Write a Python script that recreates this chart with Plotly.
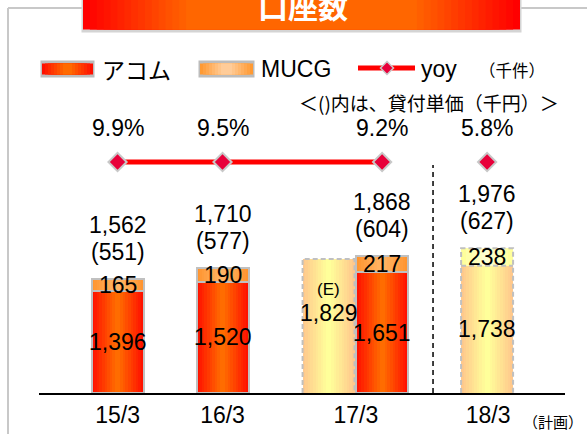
import plotly.graph_objects as go

# ---------------- data ----------------
CATEGORIES = ["15/3", "16/3", "17/3", "18/3"]
ACOM = [1396, 1520, 1651]            # actual: 15/3, 16/3, 17/3
MUCG = [165, 190, 217]
PLAN_LABELS = ["(E)", ""]           # 17/3 estimate, 18/3 plan
PLAN_ACOM = [1829, 1738]
PLAN_MUCG = [None, 238]
TOTALS = [1562, 1710, 1868, 1976]
UNIT_PRICE = [551, 577, 604, 627]
YOY = [9.9, 9.5, 9.2, 5.8]

# ---------------- layout constants ----------------
W, H = 587, 434
ML, MR, MT, MB = 39, 22, 0, 41
PW, PH = W - ML - MR, H - MT - MB
POS_ACTUAL = [0.0, 1.0, 2.52]
POS_PLAN = [2.01, 3.52]
POS_TOTAL = [0.0, 1.0, 2.52, 3.52]
POS_TICKS = [0.0, 1.0, 2.27, 3.53]
X_RANGE = [-0.748, 4.262]
Y_RANGE = [0, PH / 0.0732]
BAR_W = 0.495
YOY_LEVEL = (PH - 162) / PH
FONT = "Liberation Sans, Arial, Noto Sans CJK JP, sans-serif"
JP = "Noto Sans CJK JP, sans-serif"


def px_x(px):
    return (px - ML) / PW


def px_y(py):
    return (PH - py) / PH


def hex2rgb(h):
    h = h.lstrip("#")
    return [int(h[i:i + 2], 16) for i in (0, 2, 4)]


def lerp(c1, c2, t):
    a, b = hex2rgb(c1), hex2rgb(c2)
    return "rgb(%d,%d,%d)" % tuple(round(a[i] + (b[i] - a[i]) * t) for i in range(3))


fig = go.Figure()


def gradient_bars(x, y, base, edge, center, n=10):
    for k in range(n):
        fig.add_trace(go.Bar(
            x=x, y=y, base=base, width=BAR_W * (1 - k / n),
            marker=dict(color=lerp(edge, center, k / (n - 1)), line=dict(width=0)),
            showlegend=False, hoverinfo="skip"))


# actual bars
gradient_bars(POS_ACTUAL, ACOM, [0] * len(ACOM), "#ff1200", "#ff6c00")
gradient_bars(POS_ACTUAL, MUCG, ACOM, "#ff9530", "#ffb465")
fig.add_trace(go.Bar(x=POS_ACTUAL, y=ACOM, width=BAR_W,
                     marker=dict(color="rgba(0,0,0,0)", line=dict(color="#c0c0c0", width=2)),
                     showlegend=False, hoverinfo="skip"))
fig.add_trace(go.Bar(x=POS_ACTUAL, y=MUCG, base=ACOM, width=BAR_W,
                     marker=dict(color="rgba(0,0,0,0)", line=dict(color="#c0c0c0", width=2)),
                     showlegend=False, hoverinfo="skip"))

# plan bars
gradient_bars(POS_PLAN, PLAN_ACOM, [0] * len(PLAN_ACOM), "#ffc98c", "#ffff9a")
pm_x = [p for p, v in zip(POS_PLAN, PLAN_MUCG) if v is not None]
pm_y = [v for v in PLAN_MUCG if v is not None]
pm_b = [a for a, v in zip(PLAN_ACOM, PLAN_MUCG) if v is not None]
gradient_bars(pm_x, pm_y, pm_b, "#ffff9c", "#ffffd0", n=5)

# dashed outlines of plan bars (from data)
ox, oy = [], []
for p, a, m in zip(POS_PLAN, PLAN_ACOM, PLAN_MUCG):
    top = a + (m or 0)
    ox += [p - BAR_W / 2, p - BAR_W / 2, p + BAR_W / 2, p + BAR_W / 2, None]
    oy += [0, top, top, 0, None]
    if m:
        ox += [p - BAR_W / 2, p + BAR_W / 2, None]
        oy += [a, a, None]
fig.add_trace(go.Scatter(x=ox, y=oy, mode="lines",
                         line=dict(color="#c0c0c0", width=2, dash="5px,3px"),
                         showlegend=False, hoverinfo="skip"))

# yoy line + diamonds (on a hidden overlay axis, constant level)
fig.add_trace(go.Scatter(x=POS_TOTAL[:3], y=[YOY_LEVEL] * 3, yaxis="y2", mode="lines",
                         line=dict(color="#ff0000", width=5), showlegend=False, hoverinfo="skip"))
fig.add_trace(go.Scatter(x=POS_TOTAL, y=[YOY_LEVEL] * len(YOY), yaxis="y2", mode="markers",
                         marker=dict(symbol="diamond", size=14, color="#e8003a",
                                     line=dict(color="#c8c8c8", width=2)),
                         showlegend=False, hoverinfo="skip"))

ann = []
# yoy labels
for p, v in zip(POS_TOTAL, YOY):
    ann.append(dict(x=p, y=YOY_LEVEL, xref="x", yref="y2", yshift=34, text=f"{v:.1f}%",
                    yanchor="middle", showarrow=False,
                    font=dict(size=23, color="black", family=FONT)))
# totals + unit price
for p, t, u in zip(POS_TOTAL, TOTALS, UNIT_PRICE):
    ann.append(dict(x=p, y=t, xref="x", yref="y", yshift=54, text=f"{t:,}", yanchor="middle",
                    showarrow=False, font=dict(size=23, color="black", family=FONT)))
    ann.append(dict(x=p, y=t, xref="x", yref="y", yshift=27, text=f"({u})", yanchor="middle",
                    showarrow=False, font=dict(size=23, color="black", family=FONT)))
# segment labels (actual)
for p, a, m in zip(POS_ACTUAL, ACOM, MUCG):
    ann.append(dict(x=p, y=a / 2, xref="x", yref="y", text=f"{a:,}", showarrow=False,
                    yanchor="middle", font=dict(size=23, color="black", family=FONT)))
    ann.append(dict(x=p, y=a + m / 2, xref="x", yref="y", text=f"{m:,}", showarrow=False,
                    yanchor="middle", font=dict(size=23, color="black", family=FONT)))
# plan segment labels
for p, a, m, lab in zip(POS_PLAN, PLAN_ACOM, PLAN_MUCG, PLAN_LABELS):
    if lab:
        ann.append(dict(x=p, y=a / 2, xref="x", yref="y", yshift=37, text=lab, showarrow=False,
                        yanchor="middle", font=dict(size=17, color="black", family=FONT)))
        ann.append(dict(x=p, y=a / 2, xref="x", yref="y", yshift=13, text=f"{a:,}",
                        yanchor="middle", showarrow=False,
                        font=dict(size=23, color="black", family=FONT)))
    else:
        ann.append(dict(x=p, y=a / 2, xref="x", yref="y", text=f"{a:,}", showarrow=False,
                        yanchor="middle", font=dict(size=23, color="black", family=FONT)))
    if m:
        ann.append(dict(x=p, y=a + m / 2, xref="x", yref="y", text=f"{m:,}", showarrow=False,
                        yanchor="middle", font=dict(size=23, color="black", family=FONT)))

shapes = []

# frame
for (x0, y0, x1, y1) in [(8, 8, 8, 440), (8, 8, 83, 8), (520, 8, 590, 8)]:
    shapes.append(dict(type="line", xref="paper", yref="paper", x0=px_x(x0), y0=px_y(y0),
                       x1=px_x(x1), y1=px_y(y1), line=dict(color="#c8c8c8", width=2)))


def grad_rect(x0, y0, x1, y1, edge, center, band, n, border=None, bw=2):
    if border:
        shapes.append(dict(type="rect", xref="paper", yref="paper",
                           x0=px_x(x0 - bw / 2), x1=px_x(x1 + bw / 2),
                           y0=px_y(y0 - bw / 2), y1=px_y(y1 + bw / 2),
                           fillcolor=border, line=dict(width=0), layer="above"))
    for k in range(n):
        inset = band * k / n
        shapes.append(dict(type="rect", xref="paper", yref="paper",
                           x0=px_x(x0 + inset), x1=px_x(x1 - inset),
                           y0=px_y(y0 + bw / 2 if border else y0), y1=px_y(y1 - bw / 2 if border else y1),
                           fillcolor=lerp(edge, center, k / (n - 1)),
                           line=dict(width=0), layer="above"))


def txt(x, y, text, size, fam, xanchor="center"):
    ann.append(dict(x=px_x(x), y=px_y(y), xref="paper", yref="paper", xanchor=xanchor,
                    yanchor="middle", text=text, showarrow=False,
                    font=dict(size=size, color="black", family=fam)))


# title box
grad_rect(83, -10, 520, 31, "#ff0000", "#ff6600", 110, 16, border="#d4d4d4", bw=3)
ann.append(dict(x=px_x(303), y=px_y(5), xref="paper", yref="paper", xanchor="center",
                yanchor="middle", text="<b>口座数</b>",
                showarrow=False, font=dict(size=30, color="white", family=JP)))

# legend
grad_rect(42, 62, 93, 76, "#ff1000", "#ff6a00", 24, 8, border="#bcbcbc", bw=3)
grad_rect(200, 62, 253, 76, "#ff9a33", "#ffcc99", 24, 8, border="#bcbcbc", bw=3)
shapes.append(dict(type="line", xref="paper", yref="paper", x0=px_x(358), x1=px_x(415),
                   y0=px_y(68), y1=px_y(68), line=dict(color="#ff0000", width=5), layer="above"))
cx, cy, r = 387, 68, 6.5
shapes.append(dict(type="path", xref="paper", yref="paper",
                   path=f"M {px_x(cx - r)},{px_y(cy)} L {px_x(cx)},{px_y(cy - r)} "
                        f"L {px_x(cx + r)},{px_y(cy)} L {px_x(cx)},{px_y(cy + r)} Z",
                   fillcolor="#e8003a", line=dict(color="#c8c8c8", width=1.5), layer="above"))
txt(100, 69, "アコム", 23, JP, "left")
txt(259, 69, "MUCG", 23, FONT, "left")
txt(419, 69, "yoy", 23, FONT, "left")
txt(477, 70, "（千件）", 16.5, JP, "left")
txt(297, 103, "＜()内は、貸付単価（千円）＞", 19, JP, "left")
txt(553, 421, "（計画）", 15, JP)

# separator between actual and plan
shapes.append(dict(type="line", xref="x", yref="paper", x0=3.005, x1=3.005, y0=0,
                   y1=px_y(165), line=dict(color="black", width=1.5, dash="5px,4px")))

fig.update_layout(
    width=W, height=H, margin=dict(l=ML, r=MR, t=MT, b=MB),
    paper_bgcolor="white", plot_bgcolor="white",
    barmode="overlay", bargap=0, showlegend=False,
    xaxis=dict(range=X_RANGE, tickvals=POS_TICKS, ticktext=CATEGORIES, showgrid=False,
               zeroline=False, showline=True, linecolor="black", linewidth=2, ticks="",
               ticklabelstandoff=0, tickfont=dict(size=23, color="black", family=FONT),
               fixedrange=True),
    yaxis=dict(range=Y_RANGE, visible=False, fixedrange=True),
    yaxis2=dict(range=[0, 1], overlaying="y", visible=False, fixedrange=True),
    shapes=shapes, annotations=ann,
)

fig.write_html("out.html", config={"displayModeBar": False},
               post_script="document.body.style.margin='0';")
